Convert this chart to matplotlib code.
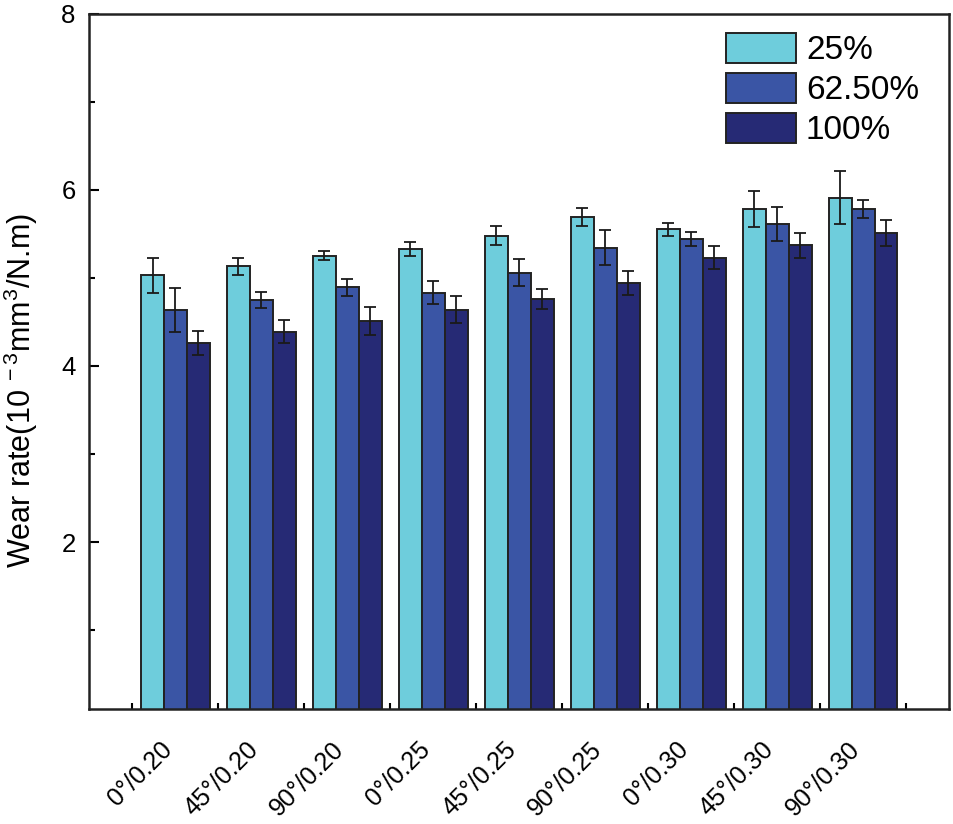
import matplotlib
matplotlib.use("Agg")
import matplotlib.pyplot as plt
import matplotlib.transforms as mtransforms
import numpy as np
from matplotlib.ticker import FixedLocator

plt.rcParams['font.family'] = ['Liberation Sans', 'DejaVu Sans']
plt.rcParams['mathtext.fontset'] = 'custom'
plt.rcParams['mathtext.rm'] = 'Liberation Sans'
plt.rcParams['mathtext.it'] = 'Liberation Sans'

# data
groups = ['0°/0.20', '45°/0.20', '90°/0.20', '0°/0.25', '45°/0.25',
          '90°/0.25', '0°/0.30', '45°/0.30', '90°/0.30']
series = ['25%', '62.50%', '100%']
wear_25 = [5.03, 5.13, 5.25, 5.33, 5.48, 5.69, 5.55, 5.78, 5.91]
wear_625 = [4.63, 4.75, 4.89, 4.83, 5.06, 5.34, 5.44, 5.61, 5.78]
wear_100 = [4.26, 4.39, 4.51, 4.64, 4.76, 4.94, 5.23, 5.37, 5.51]
err_25 = [0.20, 0.10, 0.05, 0.08, 0.11, 0.10, 0.075, 0.20, 0.30]
err_625 = [0.25, 0.09, 0.10, 0.13, 0.15, 0.20, 0.08, 0.19, 0.10]
err_100 = [0.14, 0.13, 0.16, 0.155, 0.11, 0.14, 0.13, 0.14, 0.15]
colors = ['#6ecddc', '#3a55a5', '#262a75']

fig = plt.figure(figsize=(9.54, 8.24), dpi=100)
ax = fig.add_axes([0.0938, 0.139, 0.9010, 0.8446])

x = np.arange(1, len(groups) + 1)
w = 0.8 / 3
vals = [wear_25, wear_625, wear_100]
errs = [err_25, err_625, err_100]
for i in range(3):
    ax.bar(x + (i - 1) * w, vals[i], w, yerr=errs[i], color=colors[i],
           edgecolor='#222222', linewidth=1.4, label=series[i],
           error_kw=dict(ecolor='#1a1a1a', elinewidth=1.3, capsize=4.5,
                         capthick=1.3), zorder=2)

ax.set_xlim(0, 10)
ax.set_ylim(0.1, 8)
ax.set_xticks(x)
ax.set_xticklabels(groups, rotation=45, ha='right', va='center',
                   rotation_mode='anchor')
ax.xaxis.set_minor_locator(FixedLocator(np.arange(0.5, 10, 1)))
ax.set_yticks([2, 4, 6, 8])
ax.yaxis.set_minor_locator(FixedLocator([1, 3, 5, 7]))
ax.tick_params(axis='x', which='major', direction='in', length=9, width=1.5,
               pad=26, labelsize=18)
ax.tick_params(axis='x', which='minor', direction='in', length=4.5, width=1.5)
ax.tick_params(axis='y', which='major', direction='in', length=7, width=1.5,
               pad=10, labelsize=18.5)
ax.tick_params(axis='y', which='minor', direction='in', length=4.5, width=1.5)
for s in ax.spines.values():
    s.set_linewidth(1.8)
    s.set_color('#222222')

# shift rotated labels a little to the left
shift = mtransforms.ScaledTranslation(-7 / 100, 0, fig.dpi_scale_trans)
for lab in ax.get_xticklabels():
    lab.set_transform(lab.get_transform() + shift)

ax.set_ylabel(r'Wear rate(10$^{\ -3}$mm$^{3}$/N.m)', fontsize=22)
ax.yaxis.set_label_coords(-0.057, 0.458)

ax.legend(loc='upper left', bbox_to_anchor=(0.7405, 0.9724), frameon=False,
          fontsize=24, handlelength=2.1, handleheight=1.0, labelspacing=0.2,
          handletextpad=0.3, borderpad=0, borderaxespad=0)

fig.savefig('out.png', dpi=100)
